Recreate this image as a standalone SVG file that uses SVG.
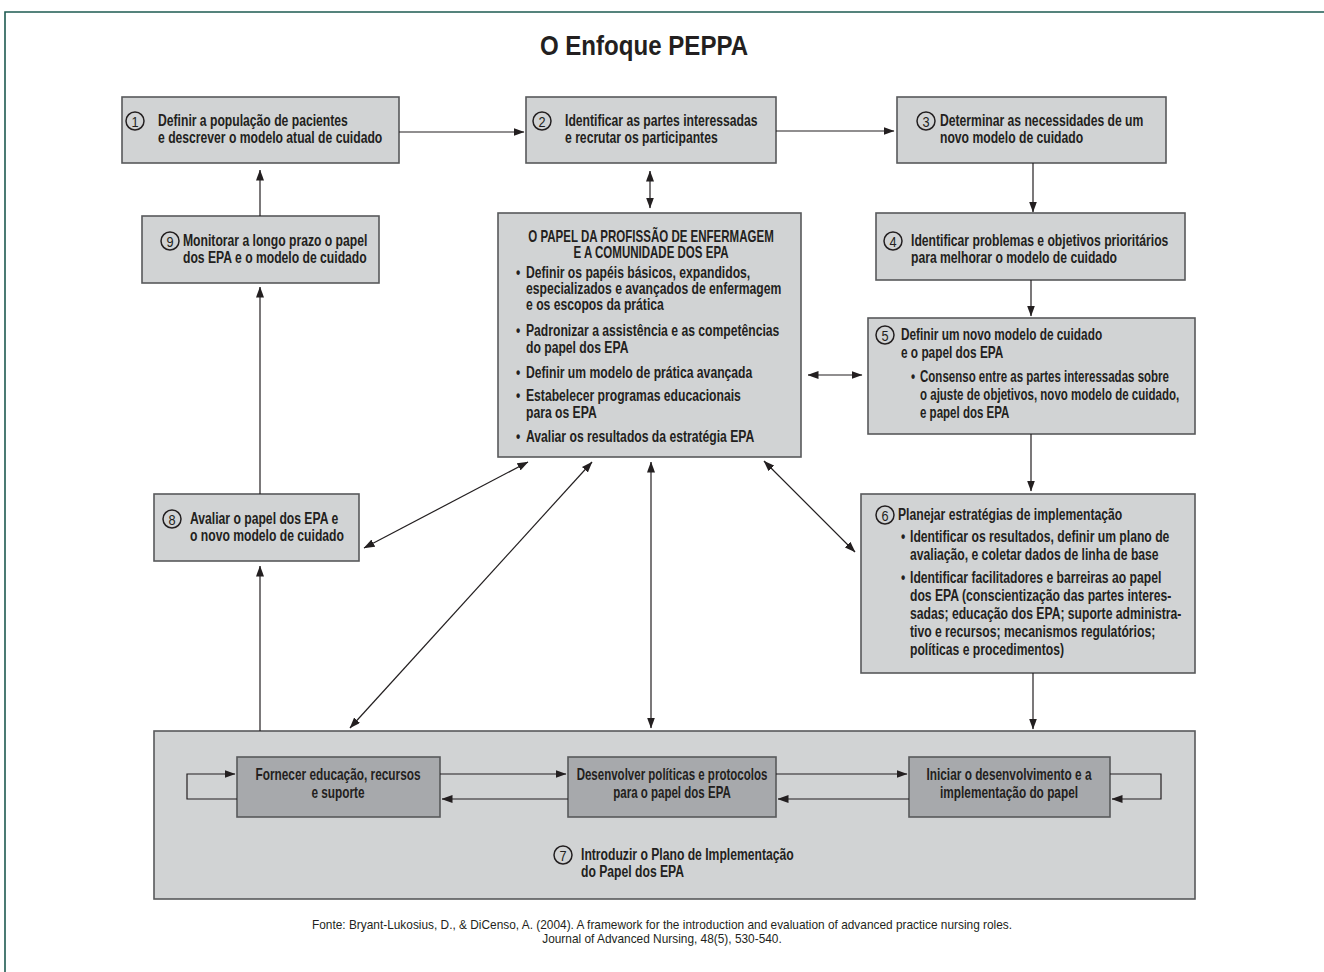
<svg xmlns="http://www.w3.org/2000/svg" width="1324" height="972" viewBox="0 0 1324 972">
<style>
.bg{fill:#ffffff}
.frame{fill:none;stroke:#1e5b52;stroke-width:1.6}
.box{fill:#d1d3d4;stroke:#58595b;stroke-width:1.6}
.inner{fill:#a7a9ac;stroke:#58595b;stroke-width:1.6}
.t{font-family:"Liberation Sans",Arial,sans-serif;font-weight:bold;font-size:16px;fill:#231f20}
.c{text-anchor:middle}
.title{font-size:28px}
.foot{font-weight:normal;font-size:12.5px}
.circ{fill:none;stroke:#231f20;stroke-width:1.5}
.num{font-family:"Liberation Sans",Arial,sans-serif;font-size:15px;fill:#231f20;text-anchor:middle}
.ln{fill:none;stroke:#231f20;stroke-width:1.2}
</style>
<defs>
<marker id="ah" markerUnits="userSpaceOnUse" markerWidth="11" markerHeight="8" refX="10.5" refY="4" orient="auto-start-reverse" viewBox="0 0 11 8">
<path d="M0,0 L11,4 L0,8 z" fill="#231f20"/>
</marker>
</defs>
<rect class="bg" x="0" y="0" width="1324" height="972"/>
<path class="frame" d="M5,972 V12 H1324"/>
<text class="t title c" transform="translate(644,55) scale(0.86,1)">O Enfoque PEPPA</text>

<g id="n1">
<rect class="box" x="122" y="97" width="277" height="66"/>
<circle class="circ" cx="135" cy="121" r="9"/><text class="num" transform="translate(135,126.5) scale(0.85,1)">1</text>
<text class="t" transform="translate(158,126) scale(0.76,1)">Definir a população de pacientes</text>
<text class="t" transform="translate(158,143) scale(0.76,1)">e descrever o modelo atual de cuidado</text>
</g>
<g id="n2">
<rect class="box" x="526" y="97" width="250" height="66"/>
<circle class="circ" cx="542" cy="121" r="9"/><text class="num" transform="translate(542,126.5) scale(0.85,1)">2</text>
<text class="t" transform="translate(565,126) scale(0.76,1)">Identificar as partes interessadas</text>
<text class="t" transform="translate(565,143) scale(0.76,1)">e recrutar os participantes</text>
</g>
<g id="n3">
<rect class="box" x="897" y="97" width="269" height="66"/>
<circle class="circ" cx="926" cy="121" r="9"/><text class="num" transform="translate(926,126.5) scale(0.85,1)">3</text>
<text class="t" transform="translate(940,126) scale(0.76,1)">Determinar as necessidades de um</text>
<text class="t" transform="translate(940,143) scale(0.76,1)">novo modelo de cuidado</text>
</g>
<g id="n9">
<rect class="box" x="142" y="216" width="237" height="67"/>
<circle class="circ" cx="170" cy="241" r="9"/><text class="num" transform="translate(170,246.5) scale(0.85,1)">9</text>
<text class="t" transform="translate(183,246) scale(0.76,1)">Monitorar a longo prazo o papel</text>
<text class="t" transform="translate(183,263) scale(0.76,1)">dos EPA e o modelo de cuidado</text>
</g>
<g id="center">
<rect class="box" x="498" y="213" width="303" height="244"/>
<text class="t c" transform="translate(651,242) scale(0.72,1)">O PAPEL DA PROFISSÃO DE ENFERMAGEM</text>
<text class="t c" transform="translate(651,258) scale(0.72,1)">E A COMUNIDADE DOS EPA</text>
<text class="t" transform="translate(516,278) scale(0.76,1)">•</text><text class="t" transform="translate(526,278) scale(0.76,1)">Definir os papéis básicos, expandidos,</text>
<text class="t" transform="translate(526,294) scale(0.76,1)">especializados e avançados de enfermagem</text>
<text class="t" transform="translate(526,310) scale(0.76,1)">e os escopos da prática</text>
<text class="t" transform="translate(516,336) scale(0.76,1)">•</text><text class="t" transform="translate(526,336) scale(0.76,1)">Padronizar a assistência e as competências</text>
<text class="t" transform="translate(526,353) scale(0.76,1)">do papel dos EPA</text>
<text class="t" transform="translate(516,378) scale(0.76,1)">•</text><text class="t" transform="translate(526,378) scale(0.76,1)">Definir um modelo de prática avançada</text>
<text class="t" transform="translate(516,401) scale(0.76,1)">•</text><text class="t" transform="translate(526,401) scale(0.76,1)">Estabelecer programas educacionais</text>
<text class="t" transform="translate(526,418) scale(0.76,1)">para os EPA</text>
<text class="t" transform="translate(516,442) scale(0.76,1)">•</text><text class="t" transform="translate(526,442) scale(0.76,1)">Avaliar os resultados da estratégia EPA</text>
</g>
<g id="n4">
<rect class="box" x="876" y="213" width="309" height="67"/>
<circle class="circ" cx="893" cy="241" r="9"/><text class="num" transform="translate(893,246.5) scale(0.85,1)">4</text>
<text class="t" transform="translate(911,246) scale(0.76,1)">Identificar problemas e objetivos prioritários</text>
<text class="t" transform="translate(911,263) scale(0.76,1)">para melhorar o modelo de cuidado</text>
</g>
<g id="n5">
<rect class="box" x="868" y="318" width="327" height="116"/>
<circle class="circ" cx="885" cy="335" r="9"/><text class="num" transform="translate(885,340.5) scale(0.85,1)">5</text>
<text class="t" transform="translate(901,340) scale(0.74,1)">Definir um novo modelo de cuidado</text>
<text class="t" transform="translate(901,358) scale(0.74,1)">e o papel dos EPA</text>
<text class="t" transform="translate(911,382) scale(0.74,1)">•</text><text class="t" transform="translate(920,382) scale(0.72,1)">Consenso entre as partes interessadas sobre</text>
<text class="t" transform="translate(920,400) scale(0.72,1)">o ajuste de objetivos, novo modelo de cuidado,</text>
<text class="t" transform="translate(920,418) scale(0.72,1)">e papel dos EPA</text>
</g>
<g id="n8">
<rect class="box" x="154" y="494" width="205" height="67"/>
<circle class="circ" cx="172" cy="519" r="9"/><text class="num" transform="translate(172,524.5) scale(0.85,1)">8</text>
<text class="t" transform="translate(190,524) scale(0.76,1)">Avaliar o papel dos EPA e</text>
<text class="t" transform="translate(190,541) scale(0.76,1)">o novo modelo de cuidado</text>
</g>
<g id="n6">
<rect class="box" x="861" y="494" width="334" height="179"/>
<circle class="circ" cx="885" cy="515" r="9"/><text class="num" transform="translate(885,520.5) scale(0.85,1)">6</text>
<text class="t" transform="translate(898,520) scale(0.76,1)">Planejar estratégias de implementação</text>
<text class="t" transform="translate(901,542) scale(0.76,1)">•</text><text class="t" transform="translate(910,542) scale(0.76,1)">Identificar os resultados, definir um plano de</text>
<text class="t" transform="translate(910,560) scale(0.76,1)">avaliação, e coletar dados de linha de base</text>
<text class="t" transform="translate(901,583) scale(0.76,1)">•</text><text class="t" transform="translate(910,583) scale(0.76,1)">Identificar facilitadores e barreiras ao papel</text>
<text class="t" transform="translate(910,601) scale(0.76,1)">dos EPA (conscientização das partes interes-</text>
<text class="t" transform="translate(910,619) scale(0.76,1)">sadas; educação dos EPA; suporte administra-</text>
<text class="t" transform="translate(910,637) scale(0.76,1)">tivo e recursos; mecanismos regulatórios;</text>
<text class="t" transform="translate(910,655) scale(0.76,1)">políticas e procedimentos)</text>
</g>
<g id="n7">
<rect class="box" x="154" y="731" width="1041" height="168"/>
<circle class="circ" cx="563" cy="855" r="9"/><text class="num" transform="translate(563,860.5) scale(0.85,1)">7</text>
<text class="t" transform="translate(581,860) scale(0.76,1)">Introduzir o Plano de Implementação</text>
<text class="t" transform="translate(581,877) scale(0.76,1)">do Papel dos EPA</text>
</g>
<g id="n7a">
<rect class="inner" x="237" y="757" width="203" height="60"/>
<text class="t c" transform="translate(338,780) scale(0.74,1)">Fornecer educação, recursos</text>
<text class="t c" transform="translate(338,798) scale(0.74,1)">e suporte</text>
</g>
<g id="n7b">
<rect class="inner" x="568" y="757" width="208" height="60"/>
<text class="t c" transform="translate(672,780) scale(0.72,1)">Desenvolver políticas e protocolos</text>
<text class="t c" transform="translate(672,798) scale(0.72,1)">para o papel dos EPA</text>
</g>
<g id="n7c">
<rect class="inner" x="909" y="757" width="201" height="60"/>
<text class="t c" transform="translate(1009,780) scale(0.74,1)">Iniciar o desenvolvimento e a</text>
<text class="t c" transform="translate(1009,798) scale(0.74,1)">implementação do papel</text>
</g>

<g id="connectors">
<path class="ln" d="M399,132 H524" marker-end="url(#ah)"/>
<path class="ln" d="M776,131 H894" marker-end="url(#ah)"/>
<path class="ln" d="M1033,163 V212" marker-end="url(#ah)"/>
<path class="ln" d="M1031,280 V316" marker-end="url(#ah)"/>
<path class="ln" d="M1031,434 V491" marker-end="url(#ah)"/>
<path class="ln" d="M1033,673 V729" marker-end="url(#ah)"/>
<path class="ln" d="M260,731 V566" marker-end="url(#ah)"/>
<path class="ln" d="M260,494 V287" marker-end="url(#ah)"/>
<path class="ln" d="M260,216 V170" marker-end="url(#ah)"/>
<path class="ln" d="M650,171 V208" marker-start="url(#ah)" marker-end="url(#ah)"/>
<path class="ln" d="M808,375 H862" marker-start="url(#ah)" marker-end="url(#ah)"/>
<path class="ln" d="M528,462 L364,548" marker-start="url(#ah)" marker-end="url(#ah)"/>
<path class="ln" d="M592,462 L350,728" marker-start="url(#ah)" marker-end="url(#ah)"/>
<path class="ln" d="M651,462 V728" marker-start="url(#ah)" marker-end="url(#ah)"/>
<path class="ln" d="M764,461 L855,552" marker-start="url(#ah)" marker-end="url(#ah)"/>
<path class="ln" d="M237,799 H187 V774 H235" marker-end="url(#ah)"/>
<path class="ln" d="M440,774 H566" marker-end="url(#ah)"/>
<path class="ln" d="M568,799 H442" marker-end="url(#ah)"/>
<path class="ln" d="M776,774 H907" marker-end="url(#ah)"/>
<path class="ln" d="M909,799 H778" marker-end="url(#ah)"/>
<path class="ln" d="M1110,774 H1161 V799 H1112" marker-end="url(#ah)"/>
</g>
<text class="t foot c" transform="translate(662,929) scale(0.95,1)">Fonte: Bryant-Lukosius, D., &amp; DiCenso, A. (2004). A framework for the introduction and evaluation of advanced practice nursing roles.</text>
<text class="t foot c" transform="translate(662,943) scale(0.95,1)">Journal of Advanced Nursing, 48(5), 530-540.</text>
</svg>
